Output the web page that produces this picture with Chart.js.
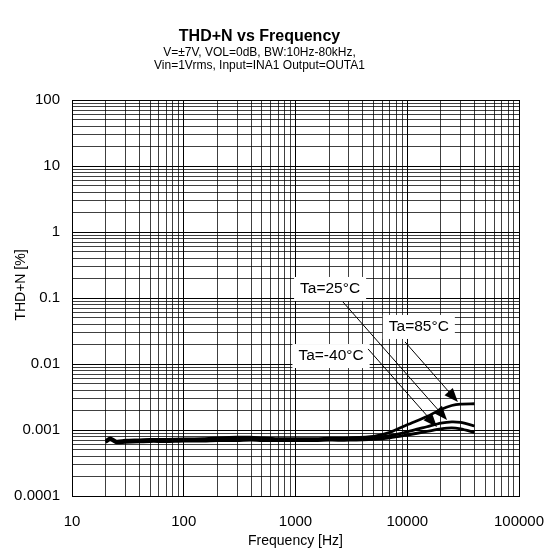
<!DOCTYPE html>
<html>
<head>
<meta charset="utf-8">
<script src="https://cdn.jsdelivr.net/npm/chart.js@4.4.1/dist/chart.umd.min.js"></script>
<style>
  html, body { margin: 0; padding: 0; background: #fff; }
  #wrap { width: 553px; height: 552px; }
</style>
</head>
<body>
<div id="wrap"><canvas id="chart"></canvas></div>
<script>
// frequency sweep [Hz]
const freqs = [20, 22, 25, 30, 40, 50, 70, 100, 150, 200, 300, 400, 500, 700,
  1000, 1500, 2000, 3000, 5000, 7000, 10000, 15000, 20000, 25000, 30000, 40000];

// THD+N [%] per temperature
const thdM40 = [0.00065, 0.00071, 0.00064, 0.00065, 0.00066, 0.00067, 0.00067, 0.00068,
  0.00068, 0.00069, 0.00069, 0.00070, 0.00069, 0.00069, 0.00069, 0.00069, 0.00070,
  0.00070, 0.00072, 0.00076, 0.00084, 0.00095, 0.00104, 0.00108, 0.00104, 0.00092];
const thd25 = [0.00067, 0.00073, 0.00066, 0.00068, 0.00069, 0.00070, 0.00070, 0.00071,
  0.00071, 0.00072, 0.00073, 0.00073, 0.00072, 0.00071, 0.00071, 0.00071, 0.00072,
  0.00073, 0.00076, 0.00082, 0.00094, 0.00112, 0.00127, 0.00133, 0.00130, 0.00115];
const thd85 = [0.00069, 0.00076, 0.00068, 0.00070, 0.00071, 0.00072, 0.00072, 0.00073,
  0.00074, 0.00076, 0.00078, 0.00078, 0.00076, 0.00074, 0.00074, 0.00074, 0.00075,
  0.00076, 0.00080, 0.00092, 0.00120, 0.00160, 0.00205, 0.00235, 0.00247, 0.00250];

const seriesNames = ['Ta=-40°C', 'Ta=25°C', 'Ta=85°C'];
const xTickLabels = ['10', '100', '1000', '10000', '100000'];
const yTickLabels = ['0.0001', '0.001', '0.01', '0.1', '1', '10', '100'];
const yTitle = 'THD+N [%]';

// callouts: label centre, arrow start, arrow tip (data coords)
const callouts = [
  { text: seriesNames[1], label: [2040, 0.137], from: [2660, 0.087], to: [22700, 0.00142] },
  { text: seriesNames[2], label: [12700, 0.0364], from: [9550, 0.0216], to: [28400, 0.00265] },
  { text: seriesNames[0], label: [2080, 0.0132], from: [4460, 0.0169], to: [18450, 0.00111] }
];

function toPoints(vals) {
  return freqs.map((f, i) => ({ x: f, y: vals[i] }));
}

function logTicks(scale, e0, e1) {
  const ticks = [];
  for (let e = e0; e < e1; e++) {
    for (let m = 1; m < 10; m++) ticks.push({ value: m * Math.pow(10, e) });
  }
  ticks.push({ value: Math.pow(10, e1) });
  scale.ticks = ticks;
}

const gridColor = ctx => (ctx.index % 9 === 0 ? '#000' : 'rgba(0,0,0,0.75)');
const font = '"Liberation Sans", Arial, sans-serif';

const calloutPlugin = {
  id: 'callouts',
  afterDatasetsDraw(chart) {
    const ctx = chart.ctx, xs = chart.scales.x, ys = chart.scales.y;
    ctx.save();
    ctx.font = '15.5px ' + font;
    callouts.forEach(c => {
      const lx = xs.getPixelForValue(c.label[0]), ly = ys.getPixelForValue(c.label[1]);
      const w = ctx.measureText(c.text).width + 12, h = 24;
      ctx.fillStyle = '#fff';
      ctx.fillRect(lx - w / 2, ly - h / 2, w, h);
      ctx.fillStyle = '#000';
      ctx.textAlign = 'center';
      ctx.textBaseline = 'middle';
      ctx.fillText(c.text, lx, ly);

      const x0 = xs.getPixelForValue(c.from[0]), y0 = ys.getPixelForValue(c.from[1]);
      const x1 = xs.getPixelForValue(c.to[0]), y1 = ys.getPixelForValue(c.to[1]);
      const a = Math.atan2(y1 - y0, x1 - x0);
      ctx.strokeStyle = '#000';
      ctx.lineWidth = 1;
      ctx.beginPath();
      ctx.moveTo(x0, y0);
      ctx.lineTo(x1 - 10 * Math.cos(a), y1 - 10 * Math.sin(a));
      ctx.stroke();
      ctx.beginPath();
      ctx.moveTo(x1, y1);
      ctx.lineTo(x1 - 14 * Math.cos(a) + 5.5 * Math.sin(a), y1 - 14 * Math.sin(a) - 5.5 * Math.cos(a));
      ctx.lineTo(x1 - 14 * Math.cos(a) - 5.5 * Math.sin(a), y1 - 14 * Math.sin(a) + 5.5 * Math.cos(a));
      ctx.closePath();
      ctx.fill();
    });

    // y axis title, sitting a little above the plot centre as in the source
    const area = chart.chartArea;
    ctx.font = '14px ' + font;
    ctx.translate(21, (area.top + area.bottom) / 2 - 13);
    ctx.rotate(-Math.PI / 2);
    ctx.fillText(yTitle, 0, 0);
    ctx.restore();
  }
};

Chart.defaults.font.family = font;
Chart.defaults.color = '#000';

new Chart(document.getElementById('chart'), {
  type: 'line',
  data: {
    datasets: [thdM40, thd25, thd85].map((vals, i) => ({
      label: seriesNames[i],
      data: toPoints(vals),
      borderColor: '#000',
      borderWidth: 2.8,
      pointRadius: 0,
      tension: 0.25,
      fill: false
    }))
  },
  options: {
    responsive: true,
    maintainAspectRatio: false,
    animation: false,
    layout: { padding: { left: 0, right: 34, top: 0, bottom: 0 } },
    plugins: {
      legend: { display: false },
      tooltip: { enabled: false },
      title: {
        display: true,
        text: 'THD+N vs Frequency',
        font: { size: 16, weight: 'bold', lineHeight: 1.2 },
        padding: { top: 26.5, bottom: 0 }
      },
      subtitle: {
        display: true,
        text: ['V=±7V, VOL=0dB, BW:10Hz-80kHz,', 'Vin=1Vrms, Input=INA1 Output=OUTA1'],
        font: { size: 12, lineHeight: 1.1 },
        padding: { top: 0, bottom: 27.9 }
      }
    },
    scales: {
      x: {
        type: 'logarithmic',
        min: 10, max: 100000,
        afterBuildTicks: s => logTicks(s, 1, 5),
        afterFit: s => { s.height = 56; s.paddingLeft = 0; s.paddingRight = 0; },
        grid: { color: gridColor, lineWidth: 1, drawTicks: false },
        border: { display: true, color: '#000', width: 1 },
        ticks: {
          autoSkip: false, maxRotation: 0, padding: 17,
          font: { size: 15 },
          callback: (v, i) => (i % 9 === 0 ? xTickLabels[i / 9] : '')
        },
        title: { display: true, text: 'Frequency [Hz]', font: { size: 14 }, padding: { top: 0, bottom: 2 } }
      },
      y: {
        type: 'logarithmic',
        min: 0.0001, max: 100,
        afterBuildTicks: s => logTicks(s, -4, 2),
        afterFit: s => { s.width = 72; s.paddingTop = 0; s.paddingBottom = 0; },
        grid: { color: gridColor, lineWidth: 1, drawTicks: false },
        border: { display: true, color: '#000', width: 1 },
        ticks: {
          autoSkip: false, padding: 12,
          font: { size: 15 },
          callback: (v, i) => (i % 9 === 0 ? yTickLabels[i / 9] : '')
        },
        title: { display: false }
      }
    }
  },
  plugins: [calloutPlugin]
});
</script>
</body>
</html>
